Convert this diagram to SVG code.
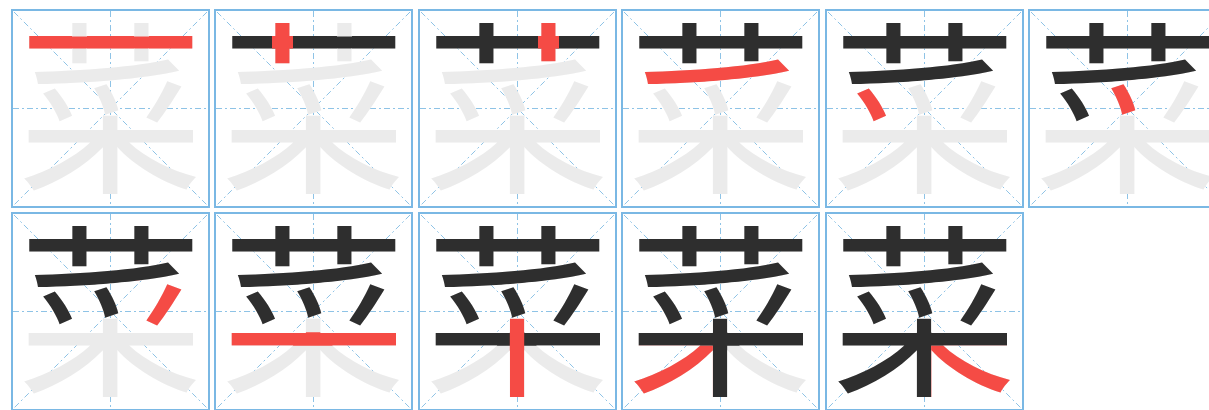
<svg xmlns="http://www.w3.org/2000/svg" width="1209" height="410" viewBox="0 0 1209 410">
<style>
.bd{fill:#fff;stroke:#7ab8e4;stroke-width:2}
.gd{stroke:#8ec3e6;stroke-width:1;stroke-dasharray:6 3 2 3;fill:none}
.ch{font-family:"Noto Sans CJK SC","Noto Sans CJK JP",sans-serif;font-size:185px;text-anchor:middle}
.g{fill:#ebebeb}.k{fill:#2e2e2e}.r{fill:#f54b45}
</style>
<defs>
<polygon id="s1" points="10,22 60,22 60,26.6 75,26.6 75,22 122,22 122,26.6 137,26.6 137,22 188,22 188,43 137,43 137,38.4 122,38.4 122,43 75,43 75,38.4 60,38.4 60,43 10,43"/>
<polygon id="s2" points="57,8 78,8 78,55 57,55"/>
<polygon id="s3" points="119,8 140,8 140,51.6 119,52.4"/>
<polygon id="s4" points="14,57 58,54.4 78,54 119,52.6 140,51.7 150,44 182,44 182,61 150,66 95,71 45,75 14,76"/>
<polygon id="s5" points="22,76.5 45,75.5 68,73 68,116 22,116"/>
<polygon id="s6" points="74,73 112,70 112,105 74,105"/>
<polygon id="s7" points="122,68 182,64 182,118 122,118"/>
<polygon id="s8" points="8,119.3 190,119.3 190,132.7 8,132.7"/>
<polygon id="s9" points="90.8,105.2 105.2,105.2 105.2,192 90.8,192"/>
<polygon id="s10" points="0,132.8 90.9,132.8 90.9,197 0,197"/>
<polygon id="s11" points="105.1,132.8 197,132.8 197,197 105.1,197"/>
<clipPath id="c1"><use href="#s1"/></clipPath>
<clipPath id="c2"><use href="#s2"/></clipPath>
<clipPath id="c3"><use href="#s3"/></clipPath>
<clipPath id="c4"><use href="#s4"/></clipPath>
<clipPath id="c5"><use href="#s5"/></clipPath>
<clipPath id="c6"><use href="#s6"/></clipPath>
<clipPath id="c7"><use href="#s7"/></clipPath>
<clipPath id="c8"><use href="#s8"/></clipPath>
<clipPath id="c9"><use href="#s9"/></clipPath>
<clipPath id="c10"><use href="#s10"/></clipPath>
<clipPath id="c11"><use href="#s11"/></clipPath>
<clipPath id="p2"><use href="#s1"/></clipPath>
<clipPath id="p3"><use href="#s1"/><use href="#s2"/></clipPath>
<clipPath id="p4"><use href="#s1"/><use href="#s2"/><use href="#s3"/></clipPath>
<clipPath id="p5"><use href="#s1"/><use href="#s2"/><use href="#s3"/><use href="#s4"/></clipPath>
<clipPath id="p6"><use href="#s1"/><use href="#s2"/><use href="#s3"/><use href="#s4"/><use href="#s5"/></clipPath>
<clipPath id="p7"><use href="#s1"/><use href="#s2"/><use href="#s3"/><use href="#s4"/><use href="#s5"/><use href="#s6"/></clipPath>
<clipPath id="p8"><use href="#s1"/><use href="#s2"/><use href="#s3"/><use href="#s4"/><use href="#s5"/><use href="#s6"/><use href="#s7"/></clipPath>
<clipPath id="p9"><use href="#s1"/><use href="#s2"/><use href="#s3"/><use href="#s4"/><use href="#s5"/><use href="#s6"/><use href="#s7"/><use href="#s8"/></clipPath>
<clipPath id="p10"><use href="#s1"/><use href="#s2"/><use href="#s3"/><use href="#s4"/><use href="#s5"/><use href="#s6"/><use href="#s7"/><use href="#s8"/><use href="#s9"/></clipPath>
<clipPath id="p11"><use href="#s1"/><use href="#s2"/><use href="#s3"/><use href="#s4"/><use href="#s5"/><use href="#s6"/><use href="#s7"/><use href="#s8"/><use href="#s9"/><use href="#s10"/></clipPath>
<g id="grid">
<rect class="bd" x="0" y="0" width="197" height="197"/>
<path class="gd" d="M98.5 1V196M1 98.5H196M2 2L195 195M195 2L2 195"/>
</g>
<text id="zi" class="ch" x="98.5" y="168.8">菜</text>
</defs>
<g id="cell1" transform="translate(12,10)"><use href="#grid"/><use href="#zi" class="g"/><use href="#zi" class="r" clip-path="url(#c1)"/></g>
<g id="cell2" transform="translate(215,10)"><use href="#grid"/><use href="#zi" class="g"/><use href="#zi" class="k" clip-path="url(#p2)"/><use href="#zi" class="r" clip-path="url(#c2)"/></g>
<g id="cell3" transform="translate(419,10)"><use href="#grid"/><use href="#zi" class="g"/><use href="#zi" class="k" clip-path="url(#p3)"/><use href="#zi" class="r" clip-path="url(#c3)"/></g>
<g id="cell4" transform="translate(622,10)"><use href="#grid"/><use href="#zi" class="g"/><use href="#zi" class="k" clip-path="url(#p4)"/><use href="#zi" class="r" clip-path="url(#c4)"/></g>
<g id="cell5" transform="translate(826,10)"><use href="#grid"/><use href="#zi" class="g"/><use href="#zi" class="k" clip-path="url(#p5)"/><use href="#zi" class="r" clip-path="url(#c5)"/></g>
<g id="cell6" transform="translate(1029,10)"><use href="#grid"/><use href="#zi" class="g"/><use href="#zi" class="k" clip-path="url(#p6)"/><use href="#zi" class="r" clip-path="url(#c6)"/></g>
<g id="cell7" transform="translate(12,213)"><use href="#grid"/><use href="#zi" class="g"/><use href="#zi" class="k" clip-path="url(#p7)"/><use href="#zi" class="r" clip-path="url(#c7)"/></g>
<g id="cell8" transform="translate(215,213)"><use href="#grid"/><use href="#zi" class="g"/><use href="#zi" class="k" clip-path="url(#p8)"/><use href="#zi" class="r" clip-path="url(#c8)"/></g>
<g id="cell9" transform="translate(419,213)"><use href="#grid"/><use href="#zi" class="g"/><use href="#zi" class="k" clip-path="url(#p9)"/><use href="#zi" class="r" clip-path="url(#c9)"/></g>
<g id="cell10" transform="translate(622,213)"><use href="#grid"/><use href="#zi" class="g"/><use href="#zi" class="k" clip-path="url(#p10)"/><use href="#zi" class="r" clip-path="url(#c10)"/></g>
<g id="cell11" transform="translate(826,213)"><use href="#grid"/><use href="#zi" class="g"/><use href="#zi" class="k" clip-path="url(#p11)"/><use href="#zi" class="r" clip-path="url(#c11)"/></g>
</svg>
